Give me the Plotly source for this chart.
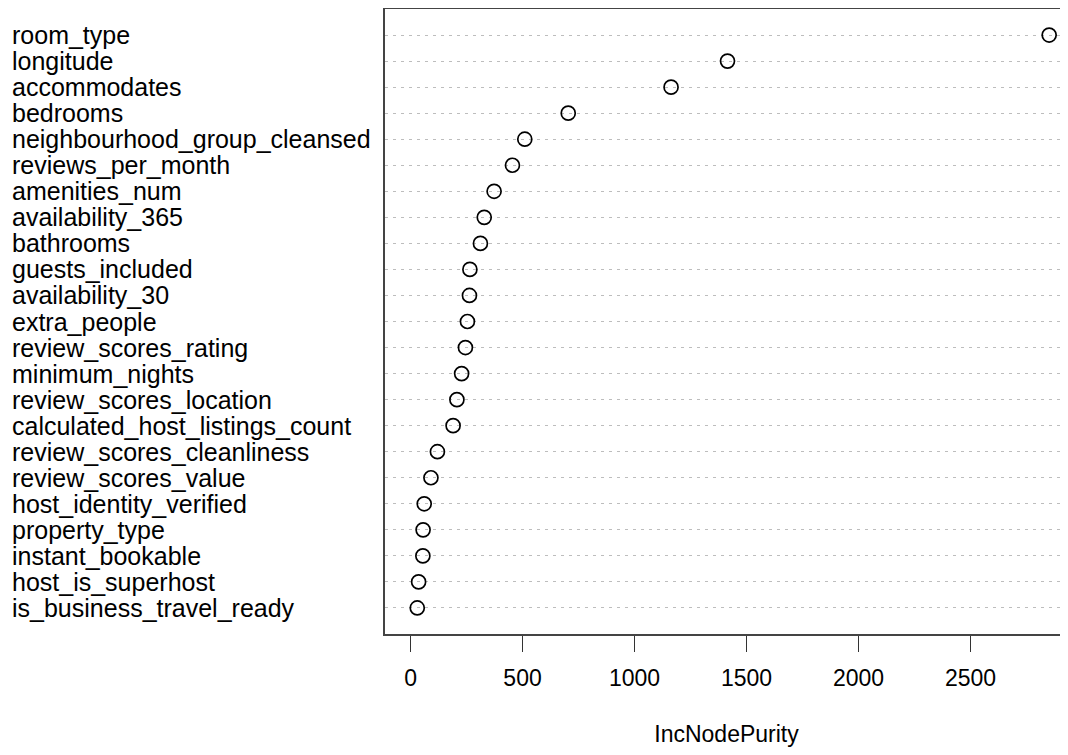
import plotly.graph_objects as go

variables = [
    "room_type", "longitude", "accommodates", "bedrooms",
    "neighbourhood_group_cleansed", "reviews_per_month", "amenities_num",
    "availability_365", "bathrooms", "guests_included", "availability_30",
    "extra_people", "review_scores_rating", "minimum_nights",
    "review_scores_location", "calculated_host_listings_count",
    "review_scores_cleanliness", "review_scores_value",
    "host_identity_verified", "property_type", "instant_bookable",
    "host_is_superhost", "is_business_travel_ready",
]
inc_node_purity = [
    2851, 1415, 1163, 704, 510, 455, 373, 329, 312, 265, 263, 254, 245,
    228, 207, 190, 120, 91, 61, 56, 55, 36, 30,
]
x_ticks = [0, 500, 1000, 1500, 2000, 2500]

n = len(variables)
ypos = [n - i for i in range(n)]  # top row = n, bottom row = 1

FONT = "Liberation Sans, Arial, Helvetica, sans-serif"
W, H = 1060, 739
L, R, T, B = 377, 0, 1, 113

xmax = max(inc_node_purity)
xlo = -0.04 * xmax
px_per_unit = 0.224
xhi = xlo + (W - L - R) / px_per_unit

fig = go.Figure()
fig.add_trace(go.Scatter(
    x=inc_node_purity, y=ypos, mode="markers",
    marker=dict(symbol="circle-open", size=14, color="black",
                line=dict(width=1.7, color="black")),
    hoverinfo="x+text", text=variables, showlegend=False,
))

annotations = []
for name, y in zip(variables, ypos):
    annotations.append(dict(
        text=name, x=-(L - 2) / (W - L - R), xref="paper", xanchor="left",
        y=y, yref="y", yanchor="middle", showarrow=False,
        font=dict(family=FONT, size=25, color="black"),
    ))

fig.update_layout(
    width=W, height=H,
    margin=dict(l=L, r=R, t=T, b=B, pad=0, autoexpand=False),
    paper_bgcolor="white", plot_bgcolor="white",
    annotations=annotations,
    font=dict(family=FONT, size=23, color="black"),
    xaxis=dict(
        range=[xlo, xhi], tickvals=x_ticks, ticktext=[str(v) for v in x_ticks],
        ticks="outside", ticklen=16, tickwidth=1.2, tickcolor="#333",
        ticklabelstandoff=6, automargin=False,
        showline=True, linecolor="#444", linewidth=2, mirror=True,
        showgrid=False, zeroline=False,
        tickfont=dict(family=FONT, size=23, color="black"),
        title=dict(text="IncNodePurity", standoff=43,
                   font=dict(family=FONT, size=23, color="black")),
    ),
    yaxis=dict(
        range=[0, n + 1], tickvals=ypos, showticklabels=False, ticks="",
        showline=True, linecolor="#444", linewidth=2, automargin=False,
        showgrid=True, gridcolor="#bdbdbd", gridwidth=1.2, griddash="3px,5px",
        zeroline=False,
    ),
)

fig.write_html("out.html")
